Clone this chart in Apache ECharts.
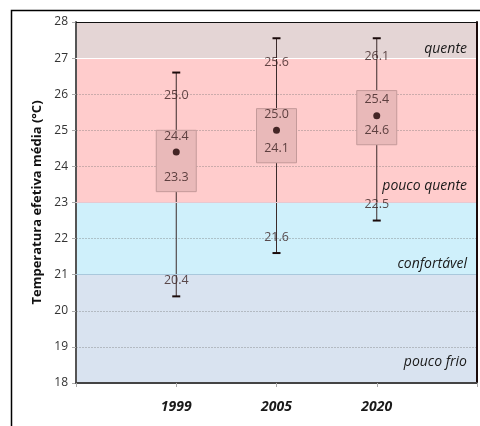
<!DOCTYPE html>
<html>
<head>
<meta charset="utf-8">
<script src="https://cdn.jsdelivr.net/npm/echarts@6/dist/echarts.min.js"></script>
<style>html,body{margin:0;padding:0;background:#fff}#c{width:480px;height:426px}</style>
</head>
<body>
<div id="c"></div>
<script>
// ---- data ----
const categories = ['', '1999', '2005', '2020', ''];
const mins  = [20.4, 21.6, 22.5];
const q1s   = [23.3, 24.1, 24.6];
const means = [24.4, 25.0, 25.4];
const q3s   = [25.0, 25.6, 26.1];
const maxs  = [26.6, 27.55, 27.55];
const yTicks = [18, 19, 20, 21, 22, 23, 24, 25, 26, 27, 28];
const bandNames = ['quente', 'pouco quente', 'confortável', 'pouco frio'];
const bandFrom  = [27, 23, 21, 18];
const bandTo    = [28, 27, 23, 21];

// ---- styles ----
const bandColors = ['#e4d5d5', '#ffcccc', '#cff0fb', '#d9e3f0'];
const bandLabelOffsets = [[-10, -1], [-10, -8], [-10, -3], [-10, -13]];
const q3LabelOffsets = [-35, -46, -34];
const FONT = '"Open Sans", "Noto Sans", sans-serif';
const labelColor = '#3a2020';

const idx = [1, 2, 3];
const boxData = idx.map((x, i) => [x, mins[i], q1s[i], q3s[i], maxs[i]]);

function labelSeries(values, offsets) {
  return {
    type: 'scatter', z: 6, symbolSize: 0, silent: true,
    data: values.map((v, i) => ({
      value: [idx[i], v],
      label: { offset: [0, Array.isArray(offsets) ? offsets[i] : offsets] }
    })),
    label: {
      show: true, position: 'inside', color: labelColor,
      fontFamily: FONT, fontSize: 12.5,
      formatter: p => p.value[1].toFixed(1)
    }
  };
}

const chart = echarts.init(document.getElementById('c'), null, { renderer: 'canvas' });
chart.setOption({
  animation: false,
  grid: { left: 76, top: 22, right: 1, bottom: 43 },
  xAxis: [{
    type: 'category', data: categories, boundaryGap: false, z: 8,
    axisLine: { lineStyle: { color: '#444', width: 2 } },
    axisTick: { show: true, length: 4, lineStyle: { color: '#aaa' } },
    axisLabel: { margin: 17, fontFamily: FONT, fontSize: 14, fontWeight: 'bold', fontStyle: 'italic', color: '#1a1a1a' },
    splitLine: { show: false }
  }, {
    type: 'category', data: categories, boundaryGap: false, position: 'top', z: 8,
    axisLine: { lineStyle: { color: '#111', width: 1 } },
    axisTick: { show: false }, axisLabel: { show: false }
  }],
  yAxis: [{
    type: 'value', min: 18, max: 28, interval: 1, z: 3,
    name: 'Temperatura efetiva média (°C)', nameLocation: 'middle', nameGap: 26,
    nameTextStyle: { fontFamily: FONT, fontSize: 13, fontWeight: 'bold', color: '#111' },
    axisLine: { show: true, lineStyle: { color: '#555', width: 2 } },
    axisTick: { show: true, length: 4, lineStyle: { color: '#aaa' } },
    axisLabel: { margin: 8, fontFamily: FONT, fontSize: 12, color: '#333',
      formatter: v => yTicks.includes(v) ? String(v) : '' },
    splitLine: { show: true, lineStyle: { color: 'rgba(110,110,110,0.35)', type: [2, 1], width: 1 } }
  }, {
    type: 'value', min: 18, max: 28, interval: 1, position: 'right', z: 8,
    axisLine: { show: true, lineStyle: { color: '#1a0a0a', width: 2 } },
    axisTick: { show: false }, axisLabel: { show: false }, splitLine: { show: false }
  }],
  series: [
    {
      type: 'line', data: [], z: 1, silent: true,
      markArea: {
        silent: true,
        data: bandNames.map((n, i) => [
          { yAxis: bandFrom[i], name: n, itemStyle: { color: bandColors[i] },
            label: { offset: bandLabelOffsets[i] } },
          { yAxis: bandTo[i] }
        ]),
        label: {
          show: true, position: 'insideBottomRight', distance: 0,
          fontFamily: FONT, fontSize: 14, fontStyle: 'italic', color: '#1a1a1a', lineHeight: 16
        }
      },
      markLine: {
        silent: true, symbol: 'none', label: { show: false },
        data: [
          { yAxis: 27, lineStyle: { color: '#ffffff', type: 'solid', width: 1 } },
          { yAxis: 23, lineStyle: { color: '#e8c8d0', type: 'solid', width: 1 } },
          { yAxis: 21, lineStyle: { color: '#a9c8dc', type: 'solid', width: 1 } }
        ]
      }
    },
    {
      type: 'custom', z: 4, silent: true,
      data: boxData,
      encode: { x: 0, y: [1, 2, 3, 4] },
      renderItem: (params, api) => {
        const x = api.value(0);
        const pMin = api.coord([x, api.value(1)]);
        const pQ1 = api.coord([x, api.value(2)]);
        const pQ3 = api.coord([x, api.value(3)]);
        const pMax = api.coord([x, api.value(4)]);
        const bw = 40, cw = 8;
        const lineStyle = { stroke: '#3b2b2b', lineWidth: 1 };
        const capStyle = { stroke: '#1b0b0b', lineWidth: 2 };
        return {
          type: 'group',
          children: [
            { type: 'line', shape: { x1: pMax[0], y1: pMax[1], x2: pQ3[0], y2: pQ3[1] }, style: lineStyle },
            { type: 'line', shape: { x1: pQ1[0], y1: pQ1[1], x2: pMin[0], y2: pMin[1] }, style: lineStyle },
            { type: 'line', shape: { x1: pMax[0] - cw / 2, y1: pMax[1], x2: pMax[0] + cw / 2, y2: pMax[1] }, style: capStyle },
            { type: 'line', shape: { x1: pMin[0] - cw / 2, y1: pMin[1], x2: pMin[0] + cw / 2, y2: pMin[1] }, style: capStyle },
            { type: 'rect', shape: { x: pQ3[0] - bw / 2, y: pQ3[1], width: bw, height: pQ1[1] - pQ3[1] },
              style: { fill: '#e9b9b9', stroke: '#c49a9a', lineWidth: 1 } }
          ]
        };
      }
    },
    {
      type: 'scatter', z: 5, silent: true, symbolSize: 7,
      itemStyle: { color: '#1a0000' },
      data: means.map((v, i) => [idx[i], v])
    },
    labelSeries(q3s, q3LabelOffsets),
    labelSeries(means, -16),
    labelSeries(q1s, -14),
    labelSeries(mins, -16)
  ],
  graphic: [{
    type: 'rect', silent: true, z: 100,
    shape: { x: 11.5, y: 10.5, width: 600, height: 600 },
    style: { fill: 'none', stroke: '#000', lineWidth: 1.5 }
  }]
});
</script>
</body>
</html>
